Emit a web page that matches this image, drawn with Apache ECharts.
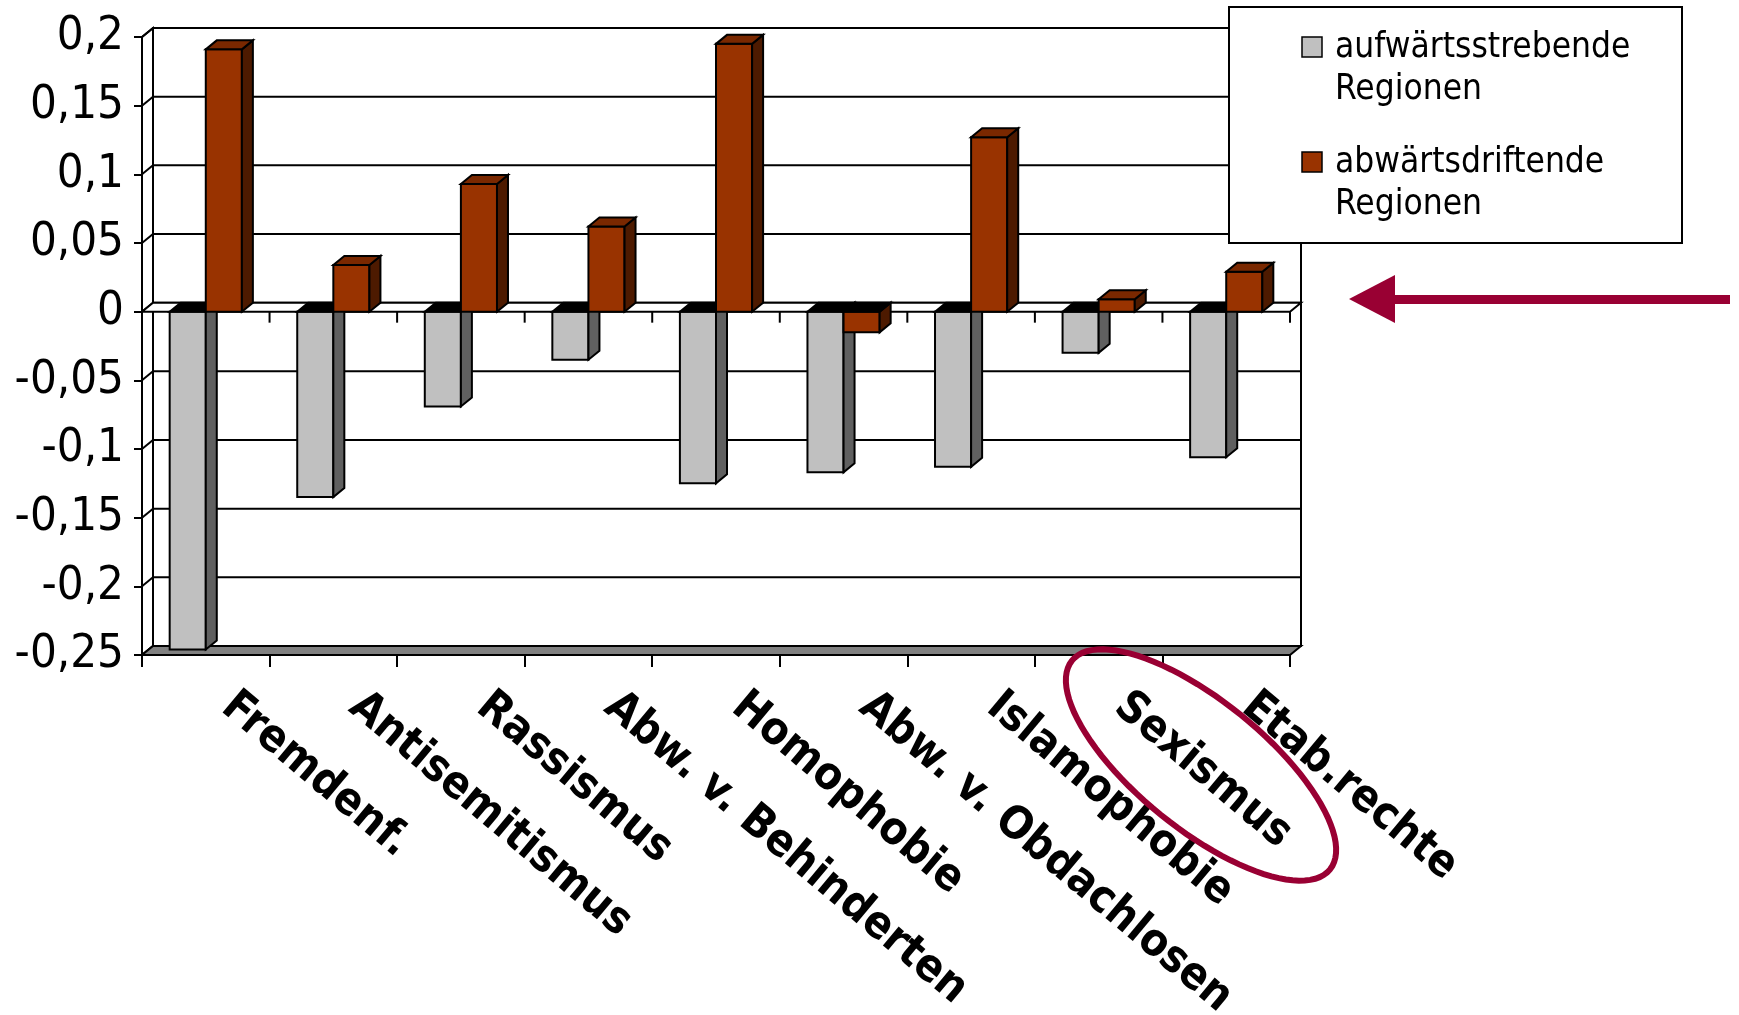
<!DOCTYPE html>
<html>
<head>
<meta charset="utf-8">
<title>Abwertungsdimensionen nach Regionstyp</title>
<script src="https://cdn.jsdelivr.net/npm/echarts@6/dist/echarts.min.js"></script>
<style>
  html, body { margin: 0; padding: 0; background: #fff; }
  #chart { width: 1739px; height: 1015px; }
</style>
</head>
<body>
<div id="chart"></div>
<script>
// Kategorien (Abwertungsdimensionen)
const categories = ['Fremdenf.', 'Antisemitismus', 'Rassismus', 'Abw. v. Behinderten',
  'Homophobie', 'Abw. v. Obdachlosen', 'Islamophobie', 'Sexismus', 'Etab.rechte'];

// Reihennamen
const seriesNames = ['aufwärtsstrebende Regionen', 'abwärtsdriftende Regionen'];

// Werte je Regionstyp
const aufwaerts = [-0.246, -0.135, -0.069, -0.035, -0.125, -0.117, -0.113, -0.030, -0.106];
const abwaerts  = [ 0.191,  0.034,  0.093,  0.062,  0.195, -0.015,  0.127,  0.009,  0.029];

// y-Achse: Teilstriche und ihre Beschriftungen
const yTicks      = [-0.25, -0.2, -0.15, -0.1, -0.05, 0, 0.05, 0.1, 0.15, 0.2];
const yTickLabels = ['-0,25', '-0,2', '-0,15', '-0,1', '-0,05', '0', '0,05', '0,1', '0,15', '0,2'];

// Hervorgehobene Kategorie
const highlighted = 'Sexismus';

const FONT = '"DejaVu Sans Condensed", "DejaVu Sans", sans-serif';
const DX = 11, DY = -9;           // Tiefenversatz der 3D-Darstellung
const BAR_FRAC = 0.283;           // Säulenbreite relativ zur Kategorie

const palette = [
  { front: '#C0C0C0', side: '#606060', top: '#9A9A9A' },
  { front: '#993300', side: '#4D1A00', top: '#7A2800' }
];

function seg(x1, y1, x2, y2, w) {
  return { type: 'line', shape: { x1, y1, x2, y2 }, style: { stroke: '#000', lineWidth: w || 2 } };
}

// Rückwand, Seitenwand, Boden und Nullebene
function renderFrame(params, api) {
  const cs = params.coordSys;
  const L = cs.x, R = cs.x + cs.width, T = cs.y, B = cs.y + cs.height;
  const ch = [];
  ch.push({ type: 'rect', shape: { x: L + DX, y: T + DY, width: cs.width, height: cs.height },
            style: { fill: '#fff', stroke: '#000', lineWidth: 2 } });
  yTicks.forEach(v => {
    const y = api.coord([0, v])[1];
    ch.push(seg(L + DX, y + DY, R + DX, y + DY));
  });
  ch.push({ type: 'polygon', shape: { points: [[L, T], [L + DX, T + DY], [L + DX, B + DY], [L, B]] },
            style: { fill: '#fff', stroke: '#000', lineWidth: 2 } });
  yTicks.forEach(v => {
    const y = api.coord([0, v])[1];
    ch.push(seg(L, y, L + DX, y + DY));
  });
  ch.push({ type: 'polygon', shape: { points: [[L, B], [R, B], [R + DX, B + DY], [L + DX, B + DY]] },
            style: { fill: '#808080', stroke: '#000', lineWidth: 2 } });
  const y0 = api.coord([0, 0])[1];
  ch.push({ type: 'polygon', shape: { points: [[L, y0], [R, y0], [R + DX, y0 + DY], [L + DX, y0 + DY]] },
            style: { fill: '#fff', stroke: '#000', lineWidth: 2 } });
  const band = api.size([1, 0])[0];
  for (let i = 0; i <= categories.length; i++) {
    const x = api.coord([i, 0])[0] - band / 2;
    ch.push(seg(x, y0, x, y0 + 11));
  }
  return { type: 'group', children: ch };
}

// 3D-Säule: Vorderseite, rechte Seite, Deckfläche
function makeBarRenderer(k) {
  const col = palette[k];
  return function (params, api) {
    const idx = api.value(0), v = api.value(1);
    const band = api.size([1, 0])[0];
    const w = band * BAR_FRAC;
    const pv = api.coord([idx, v]);
    const p0 = api.coord([idx, 0]);
    const x0 = k === 0 ? pv[0] - w : pv[0];
    const x1 = x0 + w;
    const yv = pv[1], y0 = p0[1];
    const yt = v >= 0 ? yv : y0;
    const stroke = { stroke: '#000', lineWidth: 2, lineJoin: 'miter' };
    return {
      type: 'group',
      children: [
        { type: 'rect', shape: { x: x0, y: Math.min(yv, y0), width: w, height: Math.abs(yv - y0) },
          style: Object.assign({ fill: col.front }, stroke) },
        { type: 'polygon', shape: { points: [[x1, y0], [x1, yv], [x1 + DX, yv + DY], [x1 + DX, y0 + DY]] },
          style: Object.assign({ fill: col.side }, stroke) },
        { type: 'polygon', shape: { points: [[x0, yt], [x1, yt], [x1 + DX, yt + DY], [x0 + DX, yt + DY]] },
          style: Object.assign({ fill: v >= 0 ? col.top : '#000' }, stroke) }
      ]
    };
  };
}

// Ellipse um die hervorgehobene Beschriftung
function ellipsePoints(cx, cy, a, b, deg) {
  const t = deg * Math.PI / 180, pts = [];
  for (let i = 0; i < 96; i++) {
    const u = i / 96 * Math.PI * 2;
    const ex = a * Math.cos(u), ey = b * Math.sin(u);
    pts.push([cx + ex * Math.cos(t) - ey * Math.sin(t), cy + ex * Math.sin(t) + ey * Math.cos(t)]);
  }
  return pts;
}

const chart = echarts.init(document.getElementById('chart'), null, { renderer: 'canvas' });

const legendGraphics = [
  { type: 'rect', z: 50, shape: { x: 1229, y: 7, width: 453, height: 236 },
    style: { fill: '#fff', stroke: '#000', lineWidth: 2 } }
];
seriesNames.forEach((name, k) => {
  const top = 27 + k * 115;
  legendGraphics.push({ type: 'rect', z: 51, shape: { x: 1302, y: top + 10, width: 20, height: 20 },
    style: { fill: palette[k].front, stroke: '#000', lineWidth: 1.5 } });
  legendGraphics.push({ type: 'text', z: 51, x: 1335, y: top,
    style: { text: name.replace(' ', '\n'), font: '35px ' + FONT, fill: '#000',
             lineHeight: 42, verticalAlign: 'top', align: 'left' } });
});

chart.setOption({
  animation: false,
  backgroundColor: '#fff',
  grid: { left: 142, top: 37, width: 1148, height: 618, containLabel: false, outerBoundsMode: 'none' },
  xAxis: {
    type: 'category',
    data: categories,
    boundaryGap: true,
    axisLine: { onZero: false, lineStyle: { color: '#000', width: 2 } },
    axisTick: { show: true, length: 12, lineStyle: { color: '#000', width: 2 } },
    splitLine: { show: false },
    axisLabel: {
      interval: 0, rotate: -40, margin: 28, padding: [0, 0, 0, 28],
      color: '#000', fontFamily: FONT, fontWeight: 'bold', fontSize: 45
    }
  },
  yAxis: {
    type: 'value',
    min: -0.25, max: 0.2, interval: 0.05,
    axisLine: { show: true, lineStyle: { color: '#000', width: 2 } },
    axisTick: { show: true, length: 8, lineStyle: { color: '#000', width: 2 } },
    splitLine: { show: false },
    axisLabel: {
      margin: 18, color: '#000', fontFamily: FONT, fontSize: 47,
      formatter: (val, i) => yTickLabels[i]
    }
  },
  series: [
    { type: 'custom', name: 'frame', silent: true, clip: false, z: 1,
      renderItem: renderFrame, data: [[0, 0]] },
    { type: 'custom', name: seriesNames[0], clip: false, z: 3,
      itemStyle: { color: palette[0].front },
      renderItem: makeBarRenderer(0), data: aufwaerts.map((v, i) => [i, v]) },
    { type: 'custom', name: seriesNames[1], clip: false, z: 4,
      itemStyle: { color: palette[1].front },
      renderItem: makeBarRenderer(1), data: abwaerts.map((v, i) => [i, v]) }
  ],
  graphic: legendGraphics.concat([
    // Pfeil auf die Nulllinie
    { type: 'polygon', z: 52, shape: { points: [[1349, 299], [1395, 275], [1395, 323]] },
      style: { fill: '#990033' } },
    { type: 'rect', z: 52, shape: { x: 1393, y: 295, width: 337, height: 9 },
      style: { fill: '#990033' } },
    // Markierung der hervorgehobenen Kategorie
    { type: 'polygon', z: 52, shape: { points: ellipsePoints(1201, 765, 166, 64, 39) },
      style: { fill: null, stroke: '#990033', lineWidth: 6 } }
  ])
});
</script>
</body>
</html>
